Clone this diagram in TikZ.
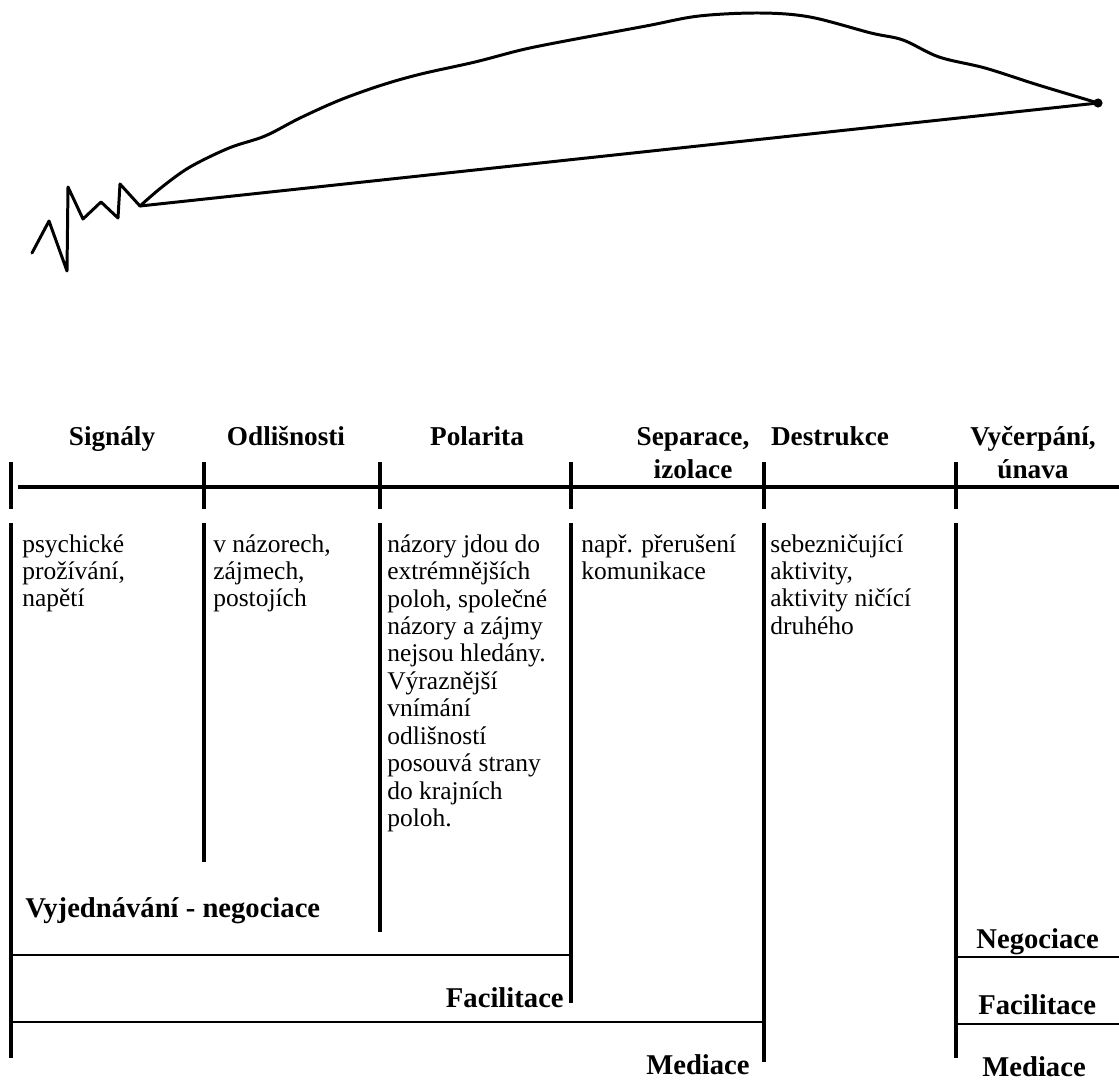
\documentclass[tikz,border=0pt]{standalone}
\usepackage{fontspec}
\setmainfont{Liberation Serif}
\usetikzlibrary{calc}
\tikzset{>=latex}
\tikzstyle{phase}=[font=\fontsize{15.5}{18.6}\selectfont\bfseries,align=center,inner sep=0pt,anchor=base]
\tikzstyle{desc}=[font=\fontsize{14.5}{15.6}\selectfont,align=left,inner sep=0pt,anchor=base west]
\tikzstyle{method}=[font=\fontsize{16.3}{18}\selectfont\bfseries,inner sep=0pt]
\tikzstyle{divider}=[line width=2.2pt]
\tikzstyle{band}=[line width=1.1pt]
\tikzstyle{sketch}=[line width=1.7pt,line join=round,line cap=round]

\begin{document}
\begin{tikzpicture}[x=0.02cm,y=-0.02cm]
\useasboundingbox (0,0) rectangle (1119,1086);
\def \tickup {462};
\def \tickdn {509};
\def \bar {487};
\def \coltop {523};
\def \lead {27.44};

% conflict curve
\coordinate (start) at (140,206);
\coordinate (finish) at (1098,103);
\draw[sketch] (32,253) -- (49,221) -- (67,271) -- (68,187) -- (83,219) -- (101,202)
	-- (118,218) -- (120,184) -- (start);
\draw[sketch] (start) -- (finish);
\draw[sketch] plot[smooth,tension=0.55] coordinates {(140,206) (162,187) (190,167)
	(229,148) (265,136) (300,118) (340,100) (382,85) (421,74) (475,62) (521,50) (560,42)
	(646,26) (699,16) (760,13) (810,17) (871,33) (903,40) (939,57) (985,68) (1035,84)
	(1078,97) (1098,103)};
\fill (finish) circle (2.6pt);

% phase columns
\foreach \x/\yend [count=\i] in {11/1058,204/862,380/932,571/1003,764/1062,956/1058} {
	\coordinate (T\i) at (\x,\tickup);
	\coordinate (B\i) at (\x,\yend);
	\draw[divider] (T\i) -- (\x,\tickdn);
	\draw[divider] (\x,\coltop) -- (B\i);
};
\draw[divider] (18,\bar) -- (1119,\bar);

\node[phase] (sig) at (112,445) {Signály};
\node[phase] (odl) at (286,445) {Odlišnosti};
\node[phase] (pol) at (477,445) {Polarita};
\node[phase] (sep) at (693,478) {Separace,\\izolace};
\node[phase] (des) at (830,445) {Destrukce};
\node[phase] (vyc) at (1033,478) {Vyčerpání,\\únava};

% descriptions, placed by the baseline of their last line
\node[desc] (d1) at (22,552+2*\lead) {psychické\\prožívání,\\napětí};
\node[desc] (d2) at (213,552+2*\lead) {v názorech,\\zájmech,\\postojích};
\node[desc] (d3) at (387,552+10*\lead) {názory jdou do\\extrémnějších\\poloh, společné\\názory a zájmy\\nejsou hledány.\\Výraznější\\vnímání\\odlišností\\posouvá strany\\do krajních\\poloh.};
\node[desc] (d4) at (581,552+\lead) {např. přerušení\\komunikace};
\node[desc] (d5) at (770,552+3*\lead) {sebezničující\\aktivity,\\aktivity ničící\\druhého};

% third-party interventions
\coordinate (E1) at (1119,957);
\coordinate (E2) at (1119,1024);
\draw[band] (11,955) -- (571,955);
\draw[band] (11,1022) -- (764,1022);
\draw[band] (956,957) -- (E1);
\draw[band] (956,1024) -- (E2);

\node[method,anchor=base west] (neg) at (25,917) {Vyjednávání - negociace};
\node[method,anchor=base east] (fac) at (564,1007) {Facilitace};
\node[method,anchor=base east] (med) at (750,1074) {Mediace};
\node[method,anchor=base west] (negR) at (976,948) {Negociace};
\node[method,anchor=base west] (facR) at (978,1014) {Facilitace};
\node[method,anchor=base west] (medR) at (982,1076) {Mediace};
\end{tikzpicture}
\end{document}
